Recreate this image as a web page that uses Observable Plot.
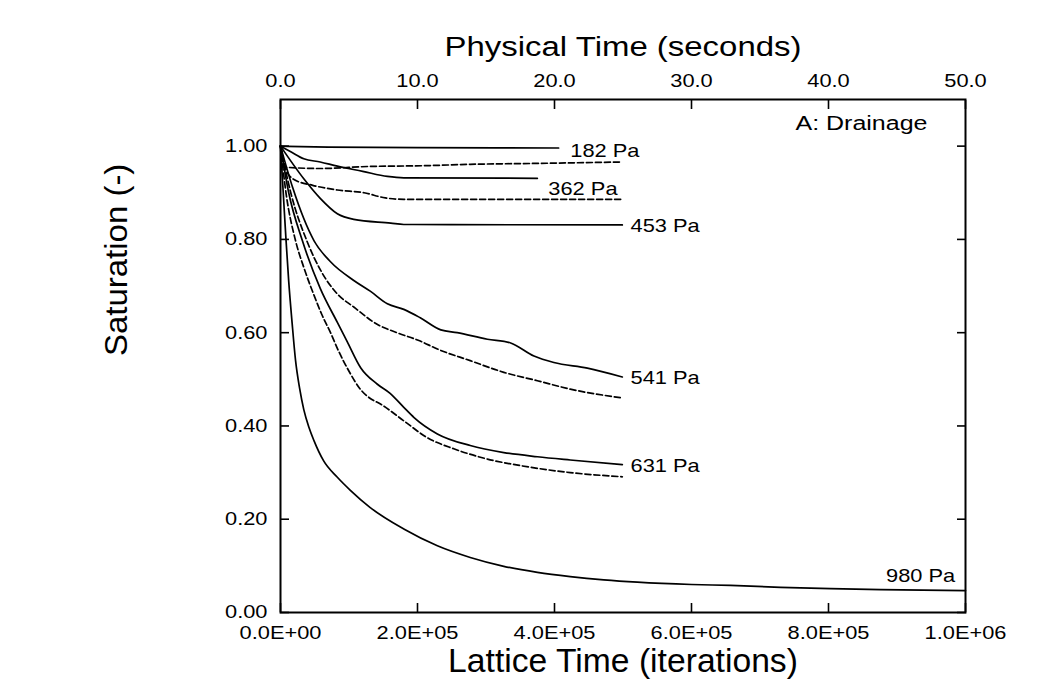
<!DOCTYPE html>
<html>
<head>
<meta charset="utf-8">
<script src="https://cdn.jsdelivr.net/npm/d3@7"></script>
<script src="https://cdn.jsdelivr.net/npm/@observablehq/plot@0.6"></script>
<style>
  html, body { margin: 0; padding: 0; background: #fff; }
</style>
</head>
<body>
<div id="chart"></div>
<script>
// ---------- Axis ticks & labels ----------
const xTicks = [0, 200000, 400000, 600000, 800000, 1000000];
const xTickLabels = ["0.0E+00", "2.0E+05", "4.0E+05", "6.0E+05", "8.0E+05", "1.0E+06"];
const physTicks = [0, 10, 20, 30, 40, 50];
const physTickLabels = ["0.0", "10.0", "20.0", "30.0", "40.0", "50.0"];
const itersPerSecond = 20000;
const yTicks = [0, 0.2, 0.4, 0.6, 0.8, 1.0];
const yTickLabels = ["0.00", "0.20", "0.40", "0.60", "0.80", "1.00"];

const topTitle = "Physical Time (seconds)";
const bottomTitle = "Lattice Time (iterations)";
const yTitle = "Saturation (-)";
const panelLabel = "A: Drainage";

// ---------- Series: [lattice iterations, saturation] ----------
const p182Solid = [[0,1.0],[70000,0.998],[200000,0.997],[406000,0.996]];
const p182Dashed = [[0,1.0],[5000,0.955],[58000,0.952],[131000,0.9565],[209000,0.958],[277000,0.961],[375000,0.963],[499000,0.966]];
const p362Solid = [[0,1.0],[15000,0.988],[34000,0.973],[58000,0.966],[83000,0.957],[120000,0.946],[156000,0.935],[180000,0.932],[375000,0.931]];
const p362Dashed = [[0,1.0],[8000,0.95],[19000,0.929],[47000,0.916],[83000,0.906],[122000,0.900],[153000,0.889],[180000,0.886],[499000,0.886]];
const p453Solid = [[0,1.0],[34000,0.93],[58000,0.888],[83000,0.855],[107000,0.843],[161000,0.835],[180000,0.832],[499000,0.831]];
const p541Solid = [[0,1.0],[18000,0.91],[49000,0.797],[73000,0.752],[107000,0.712],[131000,0.689],[156000,0.662],[180000,0.650],[204000,0.632],[234000,0.606],[258000,0.600],[302000,0.586],[336000,0.578],[370000,0.550],[399000,0.536],[448000,0.524],[499000,0.505]];
const p541Dashed = [[0,1.0],[15000,0.9],[39000,0.795],[60000,0.73],[83000,0.683],[107000,0.655],[141000,0.618],[170000,0.600],[204000,0.582],[229000,0.565],[277000,0.540],[326000,0.515],[375000,0.497],[423000,0.479],[499000,0.460]];
const p631Solid = [[0,1.0],[12000,0.9],[32000,0.797],[58000,0.695],[83000,0.622],[97000,0.582],[117000,0.525],[141000,0.490],[160000,0.470],[180000,0.440],[195000,0.418],[229000,0.383],[277000,0.358],[326000,0.343],[375000,0.334],[423000,0.327],[499000,0.317]];
const p631Dashed = [[0,1.0],[8000,0.9],[22000,0.797],[34000,0.74],[49000,0.68],[60000,0.64],[73000,0.60],[85000,0.56],[99000,0.52],[117000,0.478],[130000,0.460],[146000,0.447],[180000,0.411],[214000,0.375],[253000,0.351],[302000,0.329],[350000,0.315],[423000,0.300],[499000,0.291]];
const p980Solid = [[0,1.0],[4000,0.9],[8000,0.8],[12000,0.71],[17000,0.62],[22000,0.54],[28000,0.48],[34000,0.435],[42000,0.395],[49000,0.368],[63000,0.325],[83000,0.29],[102000,0.262],[131000,0.225],[180000,0.179],[229000,0.143],[277000,0.118],[326000,0.099],[375000,0.086],[423000,0.077],[472000,0.070],[521000,0.065],[600000,0.060],[657000,0.058],[730000,0.054],[803000,0.051],[876000,0.049],[1000000,0.047]];

const seriesList = [
  {points: p182Solid, dashed: false},
  {points: p182Dashed, dashed: true},
  {points: p362Solid, dashed: false},
  {points: p362Dashed, dashed: true},
  {points: p453Solid, dashed: false},
  {points: p541Solid, dashed: false},
  {points: p541Dashed, dashed: true},
  {points: p631Solid, dashed: false},
  {points: p631Dashed, dashed: true},
  {points: p980Solid, dashed: false}
];

// ---------- Curve labels (data coordinates) ----------
const curveLabels = ["182 Pa", "362 Pa", "453 Pa", "541 Pa", "631 Pa"];
const curveLabelX = [423000, 391000, 511000, 511000, 511000];
const curveLabelY = [0.989, 0.908, 0.829, 0.503, 0.315];
const endLabels = ["980 Pa", "A: Drainage"];
const endLabelX = [985000, 944500];
const endLabelY = [0.079, 1.049];
const endLabelSize = [18.5, 20];

// ---------- Build chart ----------
const font = "'Liberation Sans', Arial, Helvetica, sans-serif";
const tickFont = 18.5;

const lineMarks = seriesList.map(s => Plot.line(s.points, {
  x: d => d[0], y: d => d[1],
  stroke: "black", strokeWidth: 1.7,
  strokeDasharray: s.dashed ? "6,3" : "none",
  curve: "monotone-x"
}));

const chart = Plot.plot({
  width: 1063,
  height: 679,
  marginLeft: 280,
  marginRight: 98,
  marginTop: 99,
  marginBottom: 67,
  style: {fontFamily: font, fontSize: tickFont + "px", color: "black", background: "white", overflow: "visible"},
  x: {domain: [0, 1000000]},
  y: {domain: [0, 1.1]},
  marks: [
    ...lineMarks,
    // inward ticks
    Plot.axisX(xTicks, {anchor: "bottom", tickSize: -9, fill: "none", label: null, strokeWidth: 1.6}),
    Plot.axisX(physTicks.map(t => t * itersPerSecond), {anchor: "top", tickSize: -9, fill: "none", label: null, strokeWidth: 1.6}),
    Plot.axisY(yTicks, {anchor: "left", tickSize: -9, fill: "none", label: null, strokeWidth: 1.6}),
    Plot.axisY(yTicks, {anchor: "right", tickSize: -9, fill: "none", label: null, strokeWidth: 1.6}),
    // tick labels
    Plot.axisX(xTicks, {anchor: "bottom", tickSize: 0, tickPadding: 13, label: null, fontSize: tickFont,
      tickFormat: d => xTickLabels[xTicks.indexOf(d)]}),
    Plot.axisX(physTicks.map(t => t * itersPerSecond), {anchor: "top", tickSize: 0, tickPadding: 13, label: null, fontSize: tickFont,
      tickFormat: d => physTickLabels[physTicks.indexOf(d / itersPerSecond)]}),
    Plot.axisY(yTicks, {anchor: "left", tickSize: 0, tickPadding: 13, label: null, fontSize: tickFont,
      tickFormat: d => yTickLabels[yTicks.indexOf(d)]}),
    Plot.frame({stroke: "black", strokeWidth: 2}),
    // axis titles
    Plot.text([topTitle], {frameAnchor: "top", dy: -52, fontSize: 27, lineAnchor: "middle", fill: "black"}),
    Plot.text([bottomTitle], {frameAnchor: "bottom", dy: 49, fontSize: 33, lineAnchor: "middle", fill: "black"}),
    Plot.text([yTitle], {frameAnchor: "left", dx: -164, rotate: -90, fontSize: 32, lineAnchor: "middle", fill: "black"}),
    // curve labels
    Plot.text(curveLabels, {x: (d, i) => curveLabelX[i], y: (d, i) => curveLabelY[i], text: d => d,
      textAnchor: "start", lineAnchor: "middle", fontSize: tickFont, fill: "black"}),
    Plot.text(endLabels, {x: (d, i) => endLabelX[i], y: (d, i) => endLabelY[i], text: d => d,
      textAnchor: "end", lineAnchor: "middle", fontSize: (d, i) => endLabelSize[i], fill: "black"})
  ]
});

document.getElementById("chart").append(chart);

// Horizontal glyph widening to mimic the reference's wide Helvetica rendering
const stretch = new Map([[topTitle, 1.22], [bottomTitle, 1.02], [yTitle, 1.03], [panelLabel, 1.25]]);
chart.querySelectorAll("text").forEach(t => {
  const s = t.textContent;
  const f = stretch.has(s) ? stretch.get(s) : 1.18;
  const L = t.getComputedTextLength();
  if (L > 0) {
    t.setAttribute("textLength", (L * f).toFixed(2));
    t.setAttribute("lengthAdjust", "spacingAndGlyphs");
  }
});
</script>
</body>
</html>
